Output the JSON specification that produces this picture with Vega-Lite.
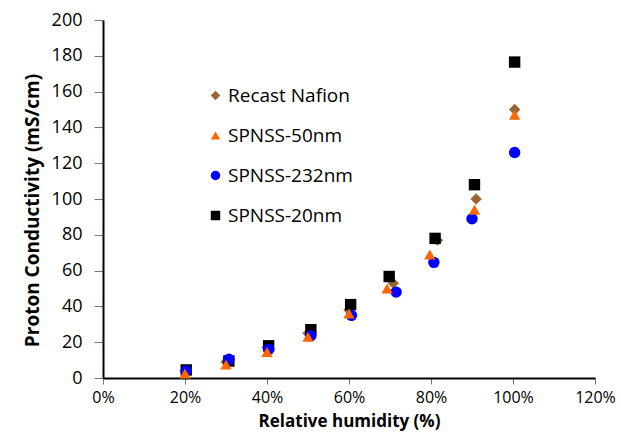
{
  "$schema": "https://vega.github.io/schema/vega-lite/v6.json",
  "autosize": {"type": "none"},
  "padding": {"left": 103, "top": 20, "right": 26, "bottom": 56},
  "width": 492,
  "height": 358,
  "background": "white",
  "config": {"view": {"stroke": null}, "font": "Open Sans"},
  "data": {"values": [
    {"s": "Recast Nafion", "rh": 20, "c": 4},
    {"s": "Recast Nafion", "rh": 30, "c": 9},
    {"s": "Recast Nafion", "rh": 40, "c": 17},
    {"s": "Recast Nafion", "rh": 50, "c": 25},
    {"s": "Recast Nafion", "rh": 60, "c": 38},
    {"s": "Recast Nafion", "rh": 70.8, "c": 53},
    {"s": "Recast Nafion", "rh": 81.6, "c": 77},
    {"s": "Recast Nafion", "rh": 91, "c": 100},
    {"s": "Recast Nafion", "rh": 100.4, "c": 150},
    {"s": "SPNSS-50nm", "rh": 20, "c": 2.5},
    {"s": "SPNSS-50nm", "rh": 30, "c": 7.5},
    {"s": "SPNSS-50nm", "rh": 40, "c": 14.5},
    {"s": "SPNSS-50nm", "rh": 50, "c": 23},
    {"s": "SPNSS-50nm", "rh": 60, "c": 36},
    {"s": "SPNSS-50nm", "rh": 69.3, "c": 50},
    {"s": "SPNSS-50nm", "rh": 79.7, "c": 69},
    {"s": "SPNSS-50nm", "rh": 90.6, "c": 94},
    {"s": "SPNSS-50nm", "rh": 100.4, "c": 147},
    {"s": "SPNSS-232nm", "rh": 20.3, "c": 4},
    {"s": "SPNSS-232nm", "rh": 30.7, "c": 10.5},
    {"s": "SPNSS-232nm", "rh": 40.4, "c": 16},
    {"s": "SPNSS-232nm", "rh": 50.7, "c": 23.6},
    {"s": "SPNSS-232nm", "rh": 60.6, "c": 35},
    {"s": "SPNSS-232nm", "rh": 71.5, "c": 48},
    {"s": "SPNSS-232nm", "rh": 80.7, "c": 64.6},
    {"s": "SPNSS-232nm", "rh": 90, "c": 89},
    {"s": "SPNSS-232nm", "rh": 100.4, "c": 126},
    {"s": "SPNSS-20nm", "rh": 20.3, "c": 4.5},
    {"s": "SPNSS-20nm", "rh": 30.7, "c": 9.5},
    {"s": "SPNSS-20nm", "rh": 40.4, "c": 18},
    {"s": "SPNSS-20nm", "rh": 50.7, "c": 27},
    {"s": "SPNSS-20nm", "rh": 60.4, "c": 41},
    {"s": "SPNSS-20nm", "rh": 69.8, "c": 56.7},
    {"s": "SPNSS-20nm", "rh": 81, "c": 78},
    {"s": "SPNSS-20nm", "rh": 90.6, "c": 108},
    {"s": "SPNSS-20nm", "rh": 100.4, "c": 176.5}
  ]},
  "mark": {"type": "point", "filled": true, "opacity": 1, "size": 130},
  "encoding": {
    "x": {"field": "rh", "type": "quantitative",
      "scale": {"domain": [0, 120], "nice": false, "zero": false},
      "axis": {"values": [0, 20, 40, 60, 80, 100, 120], "labelExpr": "datum.value + '%'", "labelFlush": false,
        "grid": false, "domainColor": "black", "domainWidth": 2, "tickColor": "#777", "tickSize": 6,
        "labelFontSize": 16, "labelColor": "black", "labelPadding": 5,
        "title": "Relative humidity (%)", "titleFontSize": 17, "titleFontWeight": "bold", "titleColor": "black", "titlePadding": 8}},
    "y": {"field": "c", "type": "quantitative",
      "scale": {"domain": [0, 200], "nice": false},
      "axis": {"values": [0, 20, 40, 60, 80, 100, 120, 140, 160, 180, 200],
        "grid": false, "domainColor": "black", "domainWidth": 2, "tickColor": "#777", "tickSize": 9,
        "labelFontSize": 18, "labelColor": "black", "labelPadding": 12,
        "title": "Proton Conductivity (mS/cm)", "titleFontSize": 19, "titleFontWeight": "bold", "titleColor": "black",
        "titleX": -71, "titleY": 190, "titleAngle": 270, "titleAlign": "center", "titleBaseline": "middle"}},
    "color": {"field": "s", "type": "nominal",
      "scale": {"domain": ["Recast Nafion", "SPNSS-50nm", "SPNSS-232nm", "SPNSS-20nm"], "range": ["#996633", "#FF6600", "#0000FF", "#000000"]},
      "legend": {"title": null, "orient": "none", "legendX": 103, "legendY": 66, "labelFontSize": 19, "labelColor": "black", "rowPadding": 20, "symbolSize": 90, "labelOffset": 3}},
    "shape": {"field": "s", "type": "nominal",
      "scale": {"domain": ["Recast Nafion", "SPNSS-50nm", "SPNSS-232nm", "SPNSS-20nm"], "range": ["diamond", "triangle-up", "circle", "square"]}},
    "order": {"field": "s", "sort": "ascending"}
  }
}
